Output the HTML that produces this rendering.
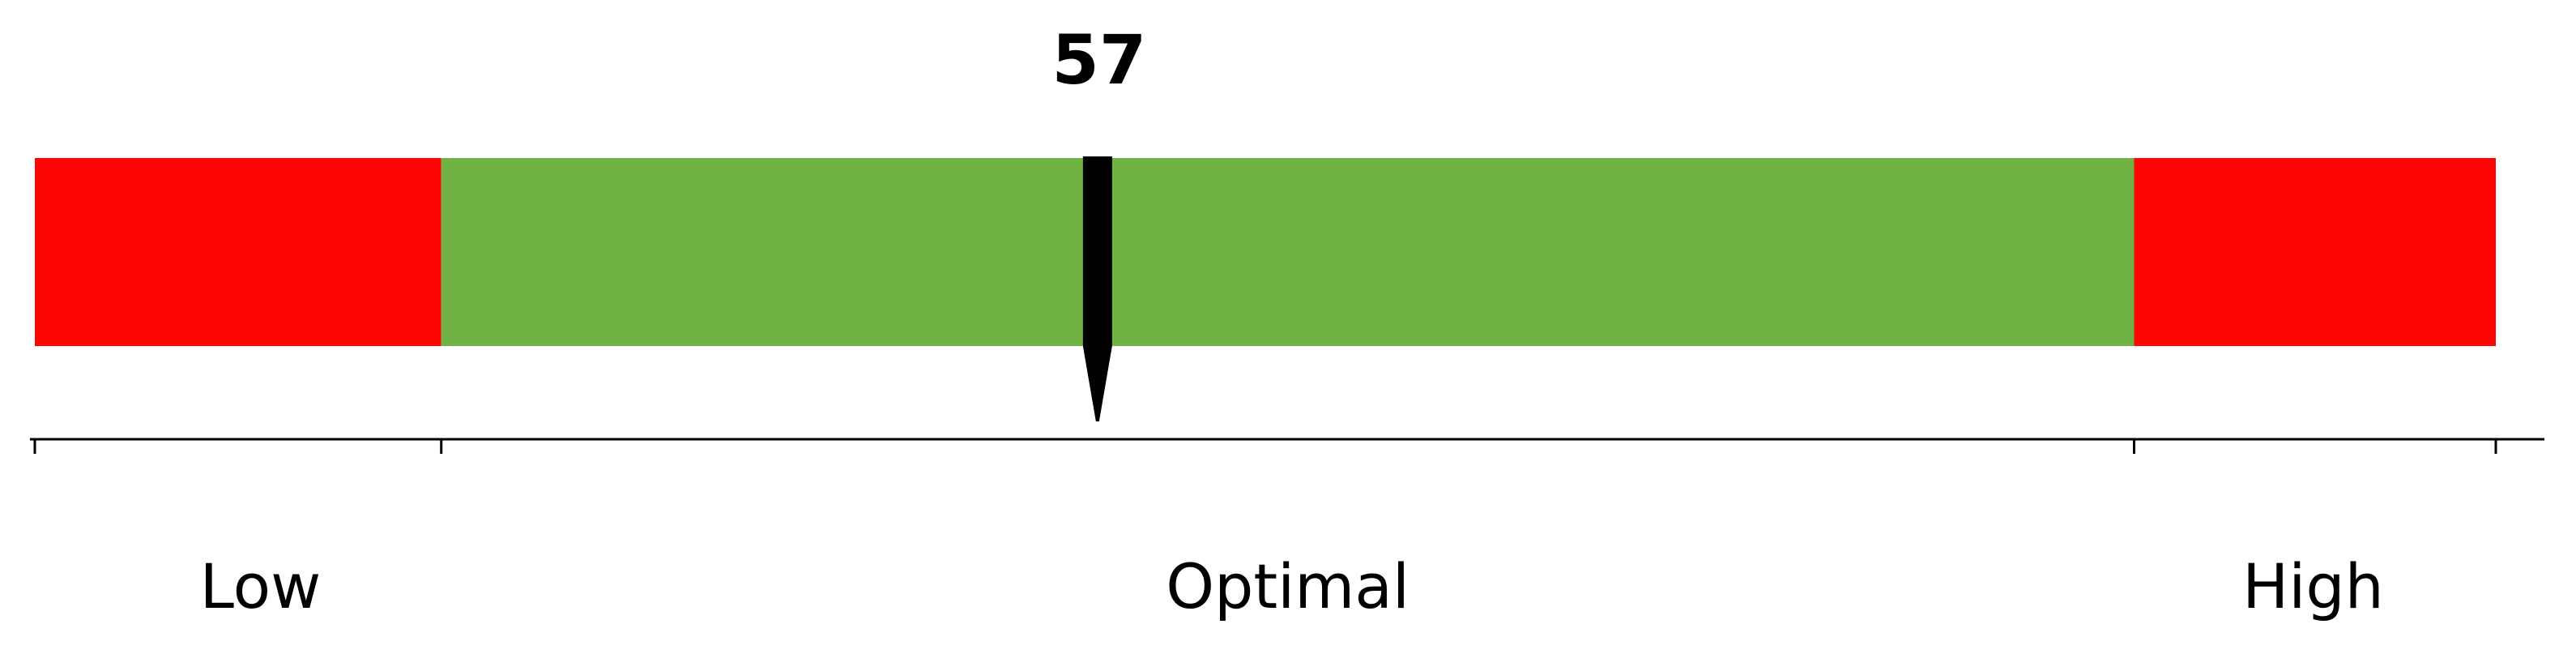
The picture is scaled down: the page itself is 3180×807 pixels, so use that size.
<!DOCTYPE html>
<html><head><meta charset="utf-8"><style>
html,body{margin:0;padding:0;background:#fff;width:3180px;height:807px;overflow:hidden}
svg text{font-family:"DejaVu Sans","Liberation Sans",sans-serif}
</style></head><body>
<svg id="chart" width="3180" height="807" xmlns="http://www.w3.org/2000/svg"></svg>
<script>
const domain = [0, 132];
const bandStarts = [0, 21.8, 112.6];
const bandEnds = [21.8, 112.6, 132];
const bandColors = ["#ff0606", "#71b245", "#ff0606"];
const bandNames = ["low", "optimal", "high"];
const tickValues = [0, 21.8, 112.6, 132];
const labelTexts = ["Low", "Optimal", "High"];
const labelValues = [12.1, 67.2, 122.2];
const markerValue = [57];

const X0 = 43, X1 = 3081;
const x = v => X0 + (v - domain[0]) / (domain[1] - domain[0]) * (X1 - X0);
const svg = document.getElementById('chart');
const NS = 'http://www.w3.org/2000/svg';
function mk(tag, attrs){const e=document.createElementNS(NS,tag);for(const k in attrs)e.setAttribute(k,attrs[k]);svg.appendChild(e);return e;}

bandStarts.forEach((s,i)=>{
  const r = mk('rect',{x:x(s),y:195,width:x(bandEnds[i])-x(s),height:232,fill:bandColors[i]});
  
  
});

const axis = mk('line',{x1:37,x2:3141,y1:542,y2:542,stroke:'#000','stroke-width':3});



tickValues.forEach(v=>{
  const t = mk('line',{x1:x(v),x2:x(v),y1:542,y2:560,stroke:'#000','stroke-width':3});
  
  
});

labelTexts.forEach((s,i)=>{
  const t = mk('text',{x:x(labelValues[i]),y:750,'text-anchor':'middle','font-size':76,fill:'#000'});
  t.textContent = s;
  
  
});

const mx = x(markerValue[0]);
const m = mk('path',{d:`M${mx-18},193 L${mx+18},193 L${mx+18},427 L${mx+2},520 L${mx-2},520 L${mx-18},427 Z`,fill:'#000'});



const vl = mk('text',{x:mx+2,y:103,'text-anchor':'middle','font-size':84,'font-weight':'bold',fill:'#000'});
vl.textContent = String(markerValue[0]);


</script>
</body></html>
